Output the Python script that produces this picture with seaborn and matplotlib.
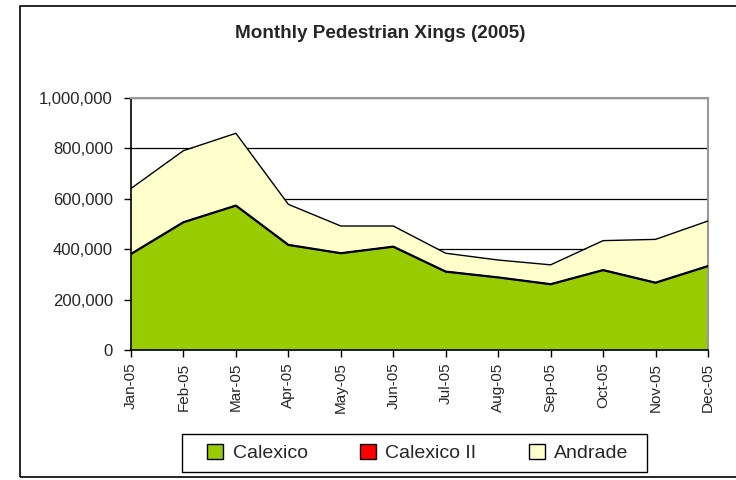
"""
Monthly pedestrian crossings, stacked area chart
"""
import numpy as np
import pandas as pd
import matplotlib
matplotlib.use("Agg")
import matplotlib.pyplot as plt
import matplotlib.ticker as ticker
from matplotlib.patches import Patch, Rectangle
import seaborn as sns


# data
months = ["Jan-05", "Feb-05", "Mar-05", "Apr-05", "May-05", "Jun-05",
          "Jul-05", "Aug-05", "Sep-05", "Oct-05", "Nov-05", "Dec-05"]
calexico = [381000, 507000, 573000, 417000, 384000, 410000,
            311000, 288000, 261000, 317000, 267000, 333000]
calexico_ii = [0, 0, 0, 0, 0, 0, 0, 0, 0, 0, 0, 0]
andrade = [260000, 284000, 287000, 161000, 108000, 82000,
           73000, 69000, 77000, 117000, 172000, 179000]

series_names = ["Calexico", "Calexico II", "Andrade"]
series_colors = ["#99CC00", "#FF0000", "#FFFFCC"]

df = pd.DataFrame({
    "month": months,
    "Calexico": calexico,
    "Calexico II": calexico_ii,
    "Andrade": andrade,
})
df["x"] = np.arange(len(df))
df["top_calexico"] = df["Calexico"]
df["top_calexico_ii"] = df["top_calexico"] + df["Calexico II"]
df["top_andrade"] = df["top_calexico_ii"] + df["Andrade"]

sns.set_style("white")
plt.rcParams["font.family"] = ["Liberation Sans", "DejaVu Sans"]

fig = plt.figure(figsize=(7.36, 4.8), dpi=100)
ax = fig.add_axes([131 / 736, 1 - 350 / 480, (708 - 131) / 736, (350 - 98) / 480])

# stacked fills
ax.stackplot(df["x"], df["Calexico"], df["Calexico II"], df["Andrade"],
             colors=series_colors, linewidth=0, zorder=2)

# outlines of each band
sns.lineplot(data=df, x="x", y="top_calexico", ax=ax, color="black", linewidth=1.6, zorder=3)
sns.lineplot(data=df, x="x", y="top_calexico_ii", ax=ax, color="black", linewidth=1.0, zorder=3)
sns.lineplot(data=df, x="x", y="top_andrade", ax=ax, color="black", linewidth=1.0, zorder=3)

# axes format
ax.set_xlim(0, len(months) - 1)
ax.set_ylim(0, 1000000)
ax.set_xticks(df["x"])
ax.set_xticklabels(months, rotation=90, fontsize=11)
ax.set_yticks(np.arange(0, 1000001, 200000))
ax.yaxis.set_major_formatter(ticker.StrMethodFormatter("{x:,.0f}"))
ax.tick_params(axis="y", labelsize=12, length=5, width=1, color="black", direction="out", pad=8, left=True)
ax.tick_params(axis="x", length=5, width=1, color="black", direction="out", pad=4, bottom=True)
ax.set_xlabel("")
ax.set_ylabel("")

ax.yaxis.grid(True, color="black", linewidth=0.9, zorder=0)
ax.set_axisbelow(True)

for side in ["left", "bottom"]:
    ax.spines[side].set_color("black")
    ax.spines[side].set_linewidth(1.2)
for side in ["top", "right"]:
    ax.spines[side].set_color("#999999")
    ax.spines[side].set_linewidth(1.5)

# title
fig.text(380 / 736, 1 - 34 / 480, "Monthly Pedestrian Xings (2005)",
         ha="center", va="center", fontsize=13.6, fontweight="bold")

# legend (entries without frame, box drawn separately so the side padding matches)
handles = [Patch(facecolor=c, edgecolor="black", linewidth=1) for c in series_colors]
leg = fig.legend(handles, series_names, loc="center", bbox_to_anchor=(418 / 736, 1 - 453 / 480),
                 ncol=3, fontsize=14, frameon=False,
                 handlelength=0.8, handleheight=0.8, handletextpad=0.5, columnspacing=2.7,
                 borderpad=0, borderaxespad=0)
fig.patches.append(Rectangle((182 / 736, 1 - 472 / 480), (647 - 182) / 736, (472 - 434) / 480,
                             transform=fig.transFigure, fill=False,
                             edgecolor="black", linewidth=1.0))

# chart border
fig.patches.append(Rectangle((20 / 736, 1 - 477 / 480), 1, (477 - 6) / 480,
                             transform=fig.transFigure, fill=False,
                             edgecolor="black", linewidth=1.2))

fig.savefig("out.png", dpi=100, facecolor="white")
